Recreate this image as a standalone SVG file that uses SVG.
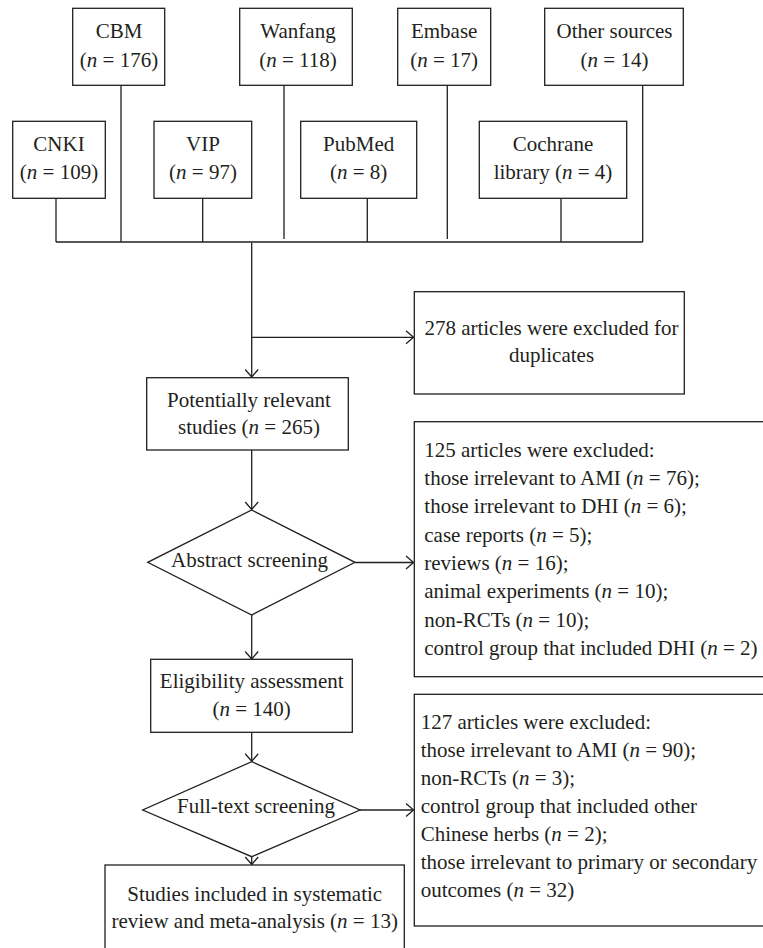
<svg xmlns="http://www.w3.org/2000/svg" width="763" height="948" viewBox="0 0 763 948">
<style>
.b{fill:#fff;stroke:#231f20;stroke-width:1.3}
.l{fill:none;stroke:#231f20;stroke-width:1.3}
text{font-family:"Liberation Serif","Times New Roman",serif;font-size:21px;fill:#231f20}
.c{text-anchor:middle}
.i{font-style:italic}
</style>
<defs>
<marker id="arr" markerUnits="userSpaceOnUse" markerWidth="10" markerHeight="16" viewBox="0 0 10 16" refX="9" refY="8" orient="auto">
<path d="M1.5,1.5 L9,8 L1.5,14.5" fill="none" stroke="#231f20" stroke-width="1.3"/>
</marker>
</defs>
<rect width="763" height="948" fill="#fff"/>
<g id="connectors">
<path class="l" d="M56,198 V242 M121,85 V242 M202.7,198 V242 M284,85 V239 M367.3,198 V242 M447.3,85 V239 M561,198 V242 M642.7,85 V242 M56,242 H642.7"/>
<path class="l" d="M251.7,243 V377" marker-end="url(#arr)"/>
<path class="l" d="M251.7,337.3 H413.5" marker-end="url(#arr)"/>
<path class="l" d="M251.7,450 V509.5" marker-end="url(#arr)"/>
<path class="l" d="M355,562.5 H413.5" marker-end="url(#arr)"/>
<path class="l" d="M251.7,615 V659" marker-end="url(#arr)"/>
<path class="l" d="M251.7,732.3 V761.3" marker-end="url(#arr)"/>
<path class="l" d="M360,810 H413.5" marker-end="url(#arr)"/>
<path class="l" d="M251.7,850 V864.5" marker-end="url(#arr)"/>
</g>
<g id="cbm"><rect class="b" x="72.7" y="8.3" width="92" height="77"/><text class="c" x="119" y="38.3">CBM</text><text class="c" x="119" y="66.7">(<tspan class="i">n</tspan> = 176)</text></g>
<g id="wanfang"><rect class="b" x="239.7" y="8.3" width="112.6" height="77"/><text class="c" x="298" y="38.3">Wanfang</text><text class="c" x="298" y="66.7">(<tspan class="i">n</tspan> = 118)</text></g>
<g id="embase"><rect class="b" x="397.7" y="8.3" width="93" height="77"/><text class="c" x="444.2" y="38.3">Embase</text><text class="c" x="444.2" y="66.7">(<tspan class="i">n</tspan> = 17)</text></g>
<g id="other"><rect class="b" x="544.7" y="8.3" width="138.6" height="77"/><text class="c" x="614.5" y="38.3">Other sources</text><text class="c" x="614.5" y="66.7">(<tspan class="i">n</tspan> = 14)</text></g>
<g id="cnki"><rect class="b" x="12.7" y="121.3" width="92.6" height="77"/><text class="c" x="59" y="150.5">CNKI</text><text class="c" x="59" y="178.5">(<tspan class="i">n</tspan> = 109)</text></g>
<g id="vip"><rect class="b" x="154" y="121.3" width="97.7" height="77"/><text class="c" x="203" y="150.5">VIP</text><text class="c" x="203" y="178.5">(<tspan class="i">n</tspan> = 97)</text></g>
<g id="pubmed"><rect class="b" x="300.7" y="121.3" width="116" height="77"/><text class="c" x="358.7" y="150.5">PubMed</text><text class="c" x="358.7" y="178.5">(<tspan class="i">n</tspan> = 8)</text></g>
<g id="cochrane"><rect class="b" x="479.3" y="121.3" width="147.4" height="77"/><text class="c" x="553" y="150.5">Cochrane</text><text class="c" x="553" y="178.5">library (<tspan class="i">n</tspan> = 4)</text></g>
<g id="duplicates"><rect class="b" x="414.3" y="291.7" width="270" height="102.3"/><text class="c" x="551.5" y="335">278 articles were excluded for</text><text class="c" x="551.5" y="362">duplicates</text></g>
<g id="potential"><rect class="b" x="146.7" y="377.7" width="201.6" height="72.3"/><text class="c" x="249" y="406.7">Potentially relevant</text><text class="c" x="249" y="434">studies (<tspan class="i">n</tspan> = 265)</text></g>
<g id="abstract"><polygon class="b" points="251.7,510 355,562.3 251.7,615 147.7,562.3"/><text class="c" x="249.5" y="567.3">Abstract screening</text></g>
<g id="excl1"><rect class="b" x="414.3" y="421.7" width="370" height="255"/>
<text x="424.3" y="456.7">125 articles were excluded:</text>
<text x="424.3" y="485">those irrelevant to AMI (<tspan class="i">n</tspan> = 76);</text>
<text x="424.3" y="513.3">those irrelevant to DHI (<tspan class="i">n</tspan> = 6);</text>
<text x="424.3" y="541.7">case reports (<tspan class="i">n</tspan> = 5);</text>
<text x="424.3" y="570">reviews (<tspan class="i">n</tspan> = 16);</text>
<text x="424.3" y="598.3">animal experiments (<tspan class="i">n</tspan> = 10);</text>
<text x="424.3" y="626.7">non-RCTs (<tspan class="i">n</tspan> = 10);</text>
<text x="424.3" y="655">control group that included DHI (<tspan class="i">n</tspan> = 2)</text>
</g>
<g id="eligibility"><rect class="b" x="150.7" y="659.3" width="201.6" height="73"/><text class="c" x="251.7" y="688.3">Eligibility assessment</text><text class="c" x="251.7" y="716">(<tspan class="i">n</tspan> = 140)</text></g>
<g id="fulltext"><polygon class="b" points="251.7,761.7 360,810 251.7,856.7 142.7,810"/><text class="c" x="256" y="812.7">Full-text screening</text></g>
<g id="excl2"><rect class="b" x="414.3" y="694.3" width="370" height="231.7"/>
<text x="420.7" y="729.3">127 articles were excluded:</text>
<text x="420.7" y="757.3">those irrelevant to AMI (<tspan class="i">n</tspan> = 90);</text>
<text x="420.7" y="785.3">non-RCTs (<tspan class="i">n</tspan> = 3);</text>
<text x="420.7" y="813.3">control group that included other</text>
<text x="420.7" y="841.3">Chinese herbs (<tspan class="i">n</tspan> = 2);</text>
<text x="420.7" y="869.3">those irrelevant to primary or secondary</text>
<text x="420.7" y="897.3">outcomes (<tspan class="i">n</tspan> = 32)</text>
</g>
<g id="included"><rect class="b" x="105" y="865" width="299.3" height="100"/><text class="c" x="254.7" y="900.7">Studies included in systematic</text><text class="c" x="254.7" y="928.3">review and meta-analysis (<tspan class="i">n</tspan> = 13)</text></g>
</svg>
